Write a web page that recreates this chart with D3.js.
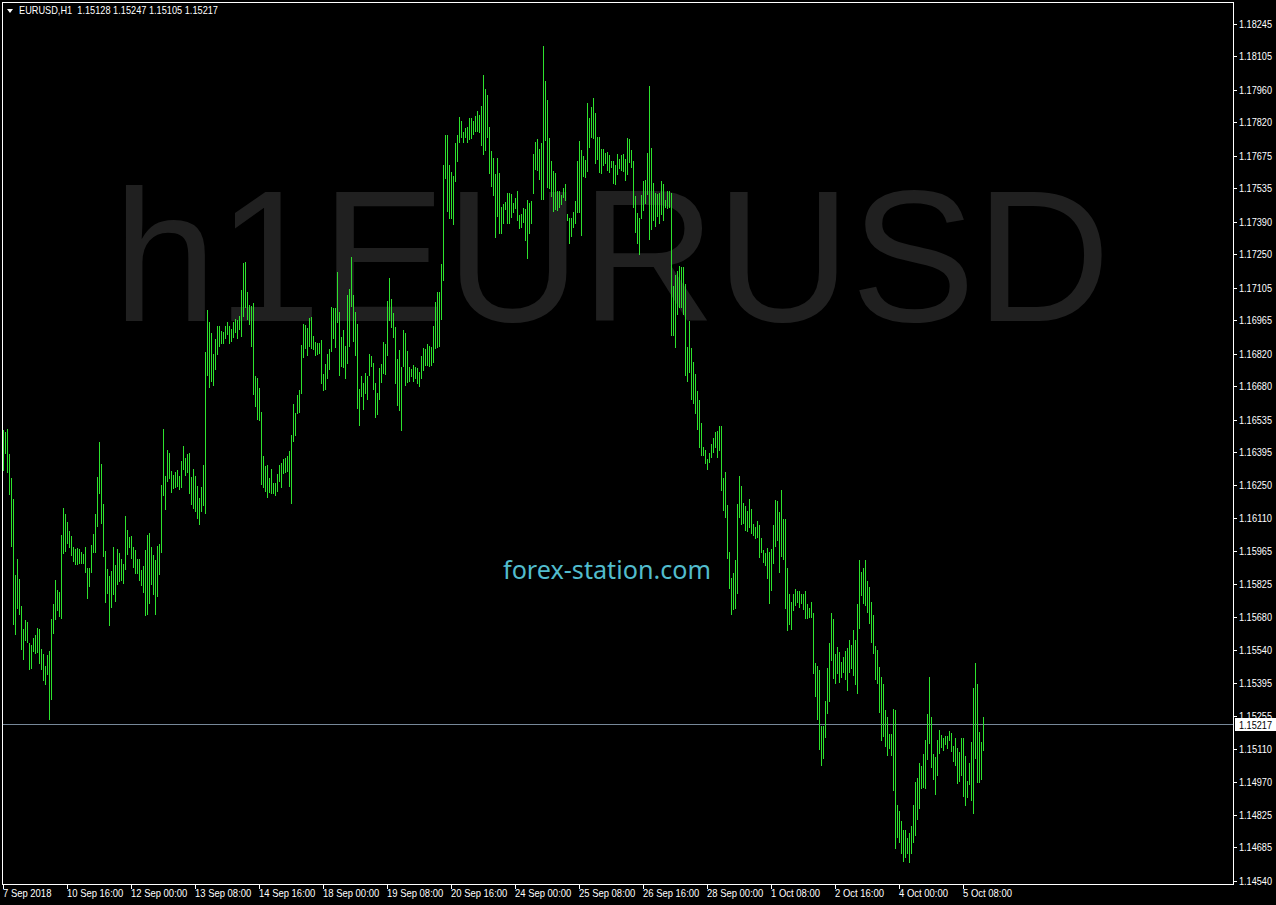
<!DOCTYPE html>
<html>
<head>
<meta charset="utf-8">
<script src="https://cdn.jsdelivr.net/npm/d3@7"></script>
<style>
html, body { margin: 0; padding: 0; background: #000; overflow: hidden; }
</style>
</head>
<body>
<svg id="chart" width="1276" height="905"></svg>
<script>
////////////////////////////////////////////////////////////////////////
// EURUSD H1 bar chart, 7 Sep 08:00 .. 5 Oct 18:00 (2018)
////////////////////////////////////////////////////////////////////////

// symbol + last bar OHLC shown in the corner
var symbolName = "EURUSD,H1";
var lastBar = [1.15128, 1.15247, 1.15105, 1.15217];

// price axis labels
var priceTicks = [1.18245, 1.18105, 1.17960, 1.17820, 1.17675, 1.17535, 1.17390, 1.17250,
                  1.17105, 1.16965, 1.16820, 1.16680, 1.16535, 1.16395, 1.16250, 1.16110,
                  1.15965, 1.15825, 1.15680, 1.15540, 1.15395, 1.15255, 1.15110, 1.14970,
                  1.14825, 1.14685, 1.14540];

// time axis labels, one every 32 bars
var timeLabels = ["7 Sep 2018", "10 Sep 16:00", "12 Sep 00:00", "13 Sep 08:00", "14 Sep 16:00",
                  "18 Sep 00:00", "19 Sep 08:00", "20 Sep 16:00", "24 Sep 00:00", "25 Sep 08:00",
                  "26 Sep 16:00", "28 Sep 00:00", "1 Oct 08:00", "2 Oct 16:00", "4 Oct 00:00",
                  "5 Oct 08:00"];
var barsPerLabel = 32;

// hourly highs
var highs = [
1.16490,1.16481,1.16494,1.16386,1.16282,1.16191,1.15863,1.15932,1.15846,1.15729,
1.15629,1.15668,1.15659,1.15569,1.15560,1.15590,1.15603,1.15633,1.15629,1.15543,
1.15522,1.15469,1.15517,1.15535,1.15673,1.15738,1.15841,1.15798,1.15789,1.16035,
1.16152,1.16127,1.16092,1.16053,1.16031,1.15984,1.15975,1.15979,1.15975,1.15962,
1.15954,1.15984,1.15893,1.15893,1.15992,1.16040,1.16127,1.16287,1.16437,1.16343,
1.16170,1.15967,1.15889,1.15859,1.15881,1.15984,1.15906,1.15975,1.15958,1.15932,
1.15911,1.16118,1.16057,1.16027,1.16031,1.15984,1.15971,1.15932,1.15932,1.15885,
1.15902,1.15971,1.16035,1.16044,1.15984,1.15949,1.15928,1.15988,1.15997,1.16252,
1.16494,1.16291,1.16403,1.16390,1.16313,1.16295,1.16308,1.16317,1.16291,1.16356,
1.16420,1.16368,1.16386,1.16390,1.16287,1.16321,1.16291,1.16248,1.16195,1.16244,
1.16338,1.16827,1.17008,1.16956,1.16909,1.16819,1.16883,1.16939,1.16939,1.16918,
1.16913,1.16939,1.16956,1.16939,1.16926,1.16956,1.16969,1.16965,1.16982,1.17095,
1.17212,1.17216,1.17086,1.17030,1.17026,1.17039,1.16723,1.16714,1.16671,1.16567,
1.16377,1.16334,1.16338,1.16282,1.16321,1.16261,1.16261,1.16300,1.16338,1.16347,
1.16364,1.16368,1.16377,1.16399,1.16468,1.16602,1.16563,1.16641,1.16663,1.16857,
1.16948,1.16943,1.16930,1.16973,1.16978,1.16896,1.16870,1.16866,1.16866,1.16879,
1.16732,1.16775,1.16819,1.16840,1.17022,1.17017,1.17017,1.17172,1.16999,1.16892,
1.16922,1.16853,1.17073,1.17099,1.17238,1.17073,1.16999,1.16948,1.16667,1.16723,
1.16693,1.16736,1.16723,1.16819,1.16810,1.16779,1.16693,1.16650,1.16757,1.16775,
1.16870,1.16862,1.17048,1.17146,1.17056,1.16995,1.16935,1.16797,1.16836,1.16762,
1.16922,1.16909,1.16832,1.16762,1.16753,1.16770,1.16762,1.16757,1.16740,1.16810,
1.16844,1.16840,1.16862,1.16853,1.16849,1.16939,1.17043,1.17086,1.17086,1.17208,
1.17635,1.17765,1.17765,1.17635,1.17605,1.17588,1.17730,1.17765,1.17843,1.17826,
1.17778,1.17795,1.17800,1.17838,1.17838,1.17826,1.17847,1.17869,1.17851,1.17890,
1.18024,1.17964,1.17938,1.17800,1.17696,1.17665,1.17597,1.17665,1.17601,1.17454,
1.17467,1.17475,1.17514,1.17514,1.17510,1.17471,1.17492,1.17523,1.17419,1.17424,
1.17449,1.17445,1.17484,1.17471,1.17480,1.17683,1.17734,1.17748,1.17704,1.17730,
1.18150,1.17999,1.17916,1.17752,1.17653,1.17610,1.17601,1.17523,1.17523,1.17505,
1.17535,1.17553,1.17424,1.17406,1.17406,1.17432,1.17480,1.17653,1.17739,1.17700,
1.17674,1.17657,1.17903,1.17838,1.17886,1.17925,1.17860,1.17757,1.17757,1.17704,
1.17704,1.17687,1.17691,1.17678,1.17653,1.17653,1.17635,1.17683,1.17661,1.17678,
1.17683,1.17661,1.17752,1.17748,1.17700,1.17653,1.17501,1.17428,1.17406,1.17505,
1.17566,1.17570,1.17687,1.17977,1.17708,1.17557,1.17514,1.17510,1.17514,1.17566,
1.17553,1.17484,1.17523,1.17523,1.17514,1.17112,1.17159,1.17177,1.17199,1.17195,
1.17195,1.17121,1.16849,1.16961,1.16844,1.16783,1.16732,1.16659,1.16619,1.16520,
1.16416,1.16403,1.16364,1.16390,1.16429,1.16455,1.16481,1.16486,1.16507,1.16507,
1.16282,1.16308,1.16165,1.15962,1.15850,1.15872,1.15928,1.16170,1.16291,1.16248,
1.16174,1.16161,1.16140,1.16191,1.16148,1.16084,1.16071,1.16097,1.16079,1.16022,
1.15971,1.15958,1.15979,1.15962,1.15975,1.16079,1.16187,1.16183,1.16135,1.16230,
1.16105,1.16105,1.15893,1.15781,1.15746,1.15781,1.15802,1.15794,1.15794,1.15781,
1.15781,1.15794,1.15738,1.15720,1.15746,1.15699,1.15482,1.15469,1.15452,1.15210,
1.15210,1.15319,1.15460,1.15569,1.15699,1.15673,1.15522,1.15552,1.15530,1.15486,
1.15509,1.15535,1.15547,1.15582,1.15560,1.15625,1.15582,1.15738,1.15928,1.15876,
1.15893,1.15928,1.15837,1.15811,1.15746,1.15690,1.15556,1.15539,1.15465,1.15422,
1.15392,1.15279,1.15249,1.15176,1.15176,1.15284,1.15279,1.14868,1.14843,1.14800,
1.14760,1.14760,1.14725,1.14747,1.14778,1.14868,1.14968,1.14985,1.15050,1.15037,
1.15089,1.15150,1.15262,1.15422,1.15249,1.15089,1.15076,1.15150,1.15193,1.15171,
1.15158,1.15167,1.15167,1.15189,1.15180,1.15124,1.15158,1.15115,1.15097,1.15158,
1.15158,1.15080,1.14973,1.15050,1.15141,1.15374,1.15482,1.15392,1.15184,1.15141,
1.15247];

// hourly lows
var lows = [
1.16317,1.16390,1.16308,1.16213,1.15988,1.15651,1.15608,1.15720,1.15695,1.15543,
1.15500,1.15582,1.15573,1.15456,1.15460,1.15535,1.15526,1.15530,1.15482,1.15456,
1.15409,1.15392,1.15435,1.15240,1.15327,1.15612,1.15673,1.15712,1.15686,1.15677,
1.15958,1.15967,1.16001,1.15984,1.15949,1.15924,1.15911,1.15911,1.15915,1.15915,
1.15915,1.15876,1.15763,1.15815,1.15876,1.15962,1.15962,1.16075,1.16217,1.16088,
1.15945,1.15746,1.15785,1.15646,1.15725,1.15781,1.15751,1.15824,1.15837,1.15841,
1.15828,1.15889,1.15954,1.15984,1.15936,1.15898,1.15872,1.15872,1.15841,1.15819,
1.15789,1.15690,1.15695,1.15742,1.15824,1.15781,1.15695,1.15772,1.15868,1.15962,
1.16208,1.16148,1.16270,1.16282,1.16221,1.16239,1.16244,1.16248,1.16235,1.16244,
1.16321,1.16295,1.16308,1.16217,1.16170,1.16152,1.16140,1.16109,1.16084,1.16140,
1.16165,1.16131,1.16727,1.16676,1.16702,1.16684,1.16753,1.16819,1.16853,1.16866,
1.16866,1.16887,1.16905,1.16866,1.16875,1.16892,1.16913,1.16887,1.16926,1.16896,
1.16982,1.17022,1.16969,1.16948,1.16853,1.16646,1.16593,1.16537,1.16533,1.16257,
1.16244,1.16226,1.16200,1.16221,1.16217,1.16217,1.16208,1.16226,1.16270,1.16244,
1.16304,1.16308,1.16313,1.16248,1.16174,1.16442,1.16468,1.16563,1.16567,1.16650,
1.16806,1.16844,1.16814,1.16853,1.16844,1.16840,1.16814,1.16819,1.16823,1.16693,
1.16663,1.16667,1.16714,1.16753,1.16832,1.16887,1.16849,1.16956,1.16727,1.16766,
1.16762,1.16714,1.16779,1.16853,1.17026,1.16875,1.16814,1.16584,1.16511,1.16637,
1.16580,1.16650,1.16624,1.16727,1.16766,1.16667,1.16546,1.16559,1.16624,1.16697,
1.16736,1.16732,1.16814,1.16965,1.16935,1.16892,1.16693,1.16597,1.16576,1.16490,
1.16766,1.16684,1.16697,1.16702,1.16723,1.16702,1.16714,1.16693,1.16680,1.16714,
1.16749,1.16770,1.16770,1.16766,1.16770,1.16783,1.16844,1.16849,1.16853,1.16969,
1.17138,1.17579,1.17437,1.17406,1.17406,1.17381,1.17566,1.17653,1.17734,1.17757,
1.17734,1.17757,1.17734,1.17748,1.17752,1.17770,1.17783,1.17783,1.17778,1.17721,
1.17683,1.17700,1.17757,1.17601,1.17544,1.17505,1.17324,1.17415,1.17341,1.17341,
1.17385,1.17445,1.17385,1.17385,1.17411,1.17432,1.17449,1.17398,1.17363,1.17368,
1.17389,1.17311,1.17233,1.17341,1.17385,1.17514,1.17618,1.17614,1.17575,1.17488,
1.17488,1.17743,1.17540,1.17535,1.17501,1.17437,1.17445,1.17441,1.17454,1.17467,
1.17497,1.17484,1.17398,1.17298,1.17328,1.17368,1.17385,1.17432,1.17432,1.17332,
1.17588,1.17584,1.17610,1.17713,1.17757,1.17752,1.17644,1.17661,1.17605,1.17601,
1.17635,1.17644,1.17614,1.17605,1.17627,1.17557,1.17553,1.17597,1.17622,1.17614,
1.17610,1.17570,1.17597,1.17648,1.17627,1.17454,1.17345,1.17298,1.17251,1.17406,
1.17441,1.17471,1.17510,1.17315,1.17359,1.17398,1.17372,1.17415,1.17385,1.17424,
1.17398,1.17454,1.17449,1.17454,1.16900,1.16900,1.16849,1.16991,1.17022,1.17022,
1.16991,1.16727,1.16702,1.16740,1.16624,1.16606,1.16563,1.16494,1.16416,1.16381,
1.16381,1.16347,1.16321,1.16351,1.16373,1.16394,1.16416,1.16373,1.16403,1.16230,
1.16144,1.16114,1.15936,1.15806,1.15695,1.15716,1.15720,1.15785,1.16114,1.16084,
1.16088,1.16057,1.16053,1.16071,1.16044,1.16035,1.16022,1.16027,1.15941,1.15962,
1.15919,1.15906,1.15850,1.15742,1.15798,1.15915,1.15988,1.16014,1.15876,1.15945,
1.15932,1.15720,1.15625,1.15651,1.15629,1.15712,1.15733,1.15746,1.15725,1.15742,
1.15716,1.15677,1.15677,1.15682,1.15682,1.15439,1.15340,1.15240,1.15111,1.15041,
1.15071,1.15163,1.15266,1.15319,1.15495,1.15417,1.15396,1.15439,1.15400,1.15422,
1.15443,1.15413,1.15366,1.15443,1.15460,1.15430,1.15392,1.15353,1.15633,1.15776,
1.15742,1.15733,1.15703,1.15655,1.15573,1.15526,1.15413,1.15396,1.15270,1.15150,
1.15167,1.15124,1.15084,1.15115,1.15084,1.14933,1.14682,1.14730,1.14708,1.14661,
1.14627,1.14644,1.14661,1.14622,1.14661,1.14708,1.14738,1.14808,1.14855,1.14942,
1.14947,1.14942,1.15067,1.15137,1.15033,1.14981,1.14916,1.14998,1.15093,1.15120,
1.15106,1.15133,1.15115,1.15150,1.15102,1.15059,1.15041,1.14964,1.14973,1.14998,
1.14907,1.14868,1.14903,1.14960,1.14890,1.14834,1.15071,1.14968,1.14968,1.14981,
1.15105];


////////////////////////////////////////////////////////////////////////
// layout
////////////////////////////////////////////////////////////////////////
var W = 1276, H = 905;
var plotLeft = 2, plotRight = 1233, plotTop = 2, plotBottom = 884;
var barColor = "#2de22d";
var axisFont = "'Liberation Sans', Arial, sans-serif";

var svg = d3.select("#chart");

svg.append("rect")
    .attr("width", W).attr("height", H)
    .attr("fill", "#000");

// price scale: label values sit at fixed pixel rows
var y = d3.scaleLinear()
    .domain([priceTicks[priceTicks.length - 1], priceTicks[0]])
    .range([881, 24]);

// bar index -> pixel column, 2px per bar
var x = d3.scaleLinear()
    .domain([0, highs.length - 1])
    .range([3, 3 + 2 * (highs.length - 1)]);

function py(v) { return Math.round(y(v)); }


// big watermark behind the bars
svg.append("text")
    .attr("x", 113).attr("y", 321)
    .attr("font-family", "'Liberation Sans', Arial, sans-serif")
    .attr("font-size", 187)
    .attr("fill", "#202020")
    .text("h1EURUSD");

svg.append("text")
    .attr("x", 503).attr("y", 579)
    .attr("font-family", "'Noto Sans', 'Open Sans', sans-serif")
    .attr("font-size", 26)
    .attr("fill", "#52bccd")
    .attr("textLength", 208)
    .attr("lengthAdjust", "spacingAndGlyphs")
    .text("forex-station.com");


// bid line
var bidY = py(lastBar[3]) + 0.5;
svg.append("line")
    .attr("x1", plotLeft + 1).attr("x2", plotRight)
    .attr("y1", bidY).attr("y2", bidY)
    .attr("stroke", "#778899")
    .attr("stroke-width", 1);


// the bars: plain high-low sticks
svg.append("g")
    .attr("shape-rendering", "crispEdges")
    .selectAll("rect")
    .data(d3.range(highs.length))
    .join("rect")
    .attr("x", function(i) { return x(i); })
    .attr("y", function(i) { return py(highs[i]); })
    .attr("width", 1)
    .attr("height", function(i) { return Math.max(1, py(lows[i]) - py(highs[i]) + 1); })
    .attr("fill", barColor);


// frame
svg.append("rect")
    .attr("x", plotLeft + 0.5).attr("y", plotTop + 0.5)
    .attr("width", plotRight - plotLeft).attr("height", plotBottom - plotTop)
    .attr("fill", "none")
    .attr("stroke", "#fff")
    .attr("stroke-width", 1)
    .attr("shape-rendering", "crispEdges");


// price axis
var yAxis = svg.append("g");
priceTicks.forEach(function(v)
    {
    var ty = py(v);
    yAxis.append("line")
        .attr("x1", plotRight).attr("x2", plotRight + 4)
        .attr("y1", ty + 0.5).attr("y2", ty + 0.5)
        .attr("stroke", "#fff");
    yAxis.append("text")
        .attr("x", 1239).attr("y", ty + 4)
        .attr("font-family", axisFont)
        .attr("font-size", 10)
        .attr("fill", "#fff")
        .attr("textLength", 33)
        .attr("lengthAdjust", "spacingAndGlyphs")
        .text(d3.format(".5f")(v));
    });

// current price box
svg.append("rect")
    .attr("x", 1235).attr("y", bidY - 6.5)
    .attr("width", 41).attr("height", 13)
    .attr("fill", "#fff");
svg.append("text")
    .attr("x", 1239).attr("y", bidY + 4)
    .attr("font-family", axisFont)
    .attr("font-size", 10)
    .attr("fill", "#000")
    .attr("textLength", 33)
    .attr("lengthAdjust", "spacingAndGlyphs")
    .text(d3.format(".5f")(lastBar[3]));


// time axis
var xAxis = svg.append("g");
timeLabels.forEach(function(label, k)
    {
    var tx = x(k * barsPerLabel);
    xAxis.append("line")
        .attr("x1", tx + 0.5).attr("x2", tx + 0.5)
        .attr("y1", plotBottom).attr("y2", plotBottom + 5)
        .attr("stroke", "#fff");
    var t = xAxis.append("text")
        .attr("x", tx).attr("y", 897)
        .attr("font-family", axisFont)
        .attr("font-size", 11)
        .attr("fill", "#fff")
        .text(label);
    var len = t.node().getComputedTextLength();
    t.attr("textLength", len * 0.86).attr("lengthAdjust", "spacingAndGlyphs");
    });


// title in the corner
svg.append("path")
    .attr("d", "M7,9 L13,9 L10,13 Z")
    .attr("fill", "#fff");
svg.append("text")
    .attr("x", 19).attr("y", 14)
    .attr("font-family", axisFont)
    .attr("font-size", 11)
    .attr("fill", "#fff")
    .style("white-space", "pre")
    .attr("textLength", 199)
    .attr("lengthAdjust", "spacingAndGlyphs")
    .text(symbolName + "  " + lastBar.map(d3.format(".5f")).join(" "));
</script>
</body>
</html>
